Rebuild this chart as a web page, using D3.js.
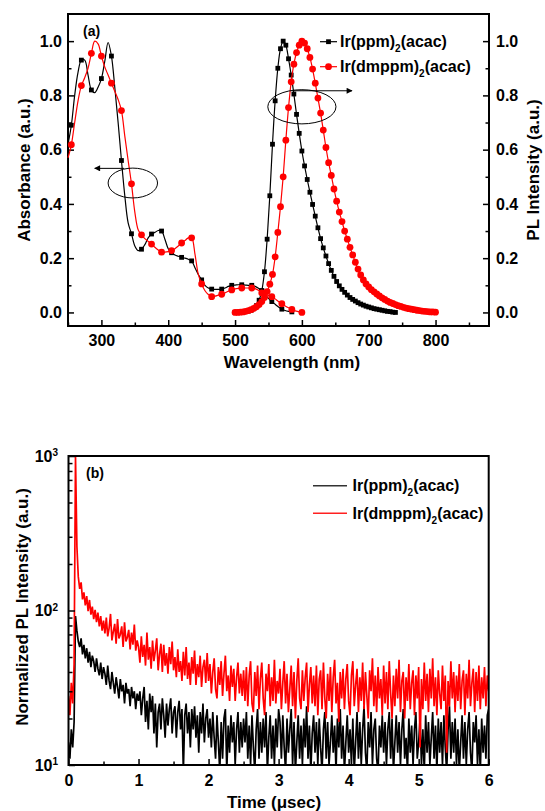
<!DOCTYPE html>
<html>
<head>
<meta charset="utf-8">
<script src="https://cdn.jsdelivr.net/npm/d3@7"></script>
<style>
  body { margin: 0; background: #fff; }
  svg { display: block; font-family: "Liberation Sans", Arial, sans-serif; font-weight: bold; }
</style>
</head>
<body>
<svg id="chart" width="545" height="811"></svg>
<script>
// ---------- Panel (a): absorption and PL spectra ----------
const seriesNames = ["Ir(ppm)", "Ir(dmppm)"];
const seriesColors = ["#000000", "#ff0000"];

// absorption, 5 nm sampling
const absWavelength = [250,255,260,265,270,275,280,285,290,295,300,305,310,315,320,325,330,335,340,345,
  350,355,360,365,370,375,380,385,390,395,400,405,410,415,420,425,430,435,440,445,450,455,460,465,470,
  475,480,485,490,495,500,505,510,515,520,525,530,535,540,545,550,555,560,565,570,575,580,585,590,595,600];
const absPpm = [0.62,0.69,0.80,0.885,0.93,0.93,0.875,0.82,0.81,0.83,0.862,0.925,0.995,0.945,0.83,0.70,0.56,0.43,0.33,0.29,
  0.245,0.228,0.233,0.25,0.275,0.289,0.295,0.302,0.30,0.27,0.235,0.22,0.212,0.207,0.203,0.20,0.196,0.19,0.165,0.14,
  0.12,0.10,0.09,0.086,0.085,0.085,0.086,0.09,0.096,0.10,0.101,0.102,0.102,0.101,0.10,0.10,0.096,0.089,0.08,0.066,
  0.052,0.04,0.03,0.02,0.012,0.007,0.004,0.002];
const absDmppm = [0.57,0.618,0.70,0.78,0.836,0.865,0.90,0.955,1.0,0.99,0.945,0.905,0.875,0.845,0.815,0.785,0.744,0.65,0.56,0.474,
  0.37,0.305,0.286,0.272,0.262,0.252,0.24,0.23,0.222,0.222,0.224,0.228,0.235,0.245,0.256,0.265,0.275,0.275,0.215,0.14,
  0.105,0.08,0.066,0.058,0.06,0.064,0.067,0.072,0.078,0.083,0.087,0.089,0.09,0.09,0.09,0.09,0.088,0.082,0.072,0.066,
  0.062,0.058,0.05,0.04,0.032,0.024,0.017,0.011,0.006,0.003,0.0];

// photoluminescence, 4 nm sampling
const plWavelength = [500,504,508,512,516,520,524,528,532,536,540,544,548,552,556,560,564,568,572,576,580,584,588,592,596,
  600,604,608,612,616,620,624,628,632,636,640,644,648,652,656,660,664,668,672,676,680,684,688,692,696,700,704,708,712,
  716,720,724,728,732,736,740,744,748,752,756,760,764,768,772,776,780,784,788,792,796,800];
const plPpm = [0.0,0.0,0.001,0.002,0.003,0.005,0.008,0.014,0.025,0.045,0.08,0.15,0.27,0.43,0.62,0.78,0.90,0.972,1.0,0.985,
  0.935,0.875,0.805,0.73,0.66,0.595,0.54,0.49,0.443,0.398,0.355,0.312,0.272,0.238,0.208,0.18,0.155,0.133,0.114,0.098,
  0.085,0.074,0.064,0.055,0.048,0.042,0.036,0.031,0.027,0.023,0.02,0.017,0.014,0.012,0.01,0.008,0.006,0.004,0.003,0.001,0.0];
const plDmppm = [0.0,0.0,0.001,0.002,0.004,0.007,0.01,0.015,0.021,0.029,0.04,0.055,0.077,0.104,0.14,0.205,0.295,0.39,0.50,0.635,
  0.755,0.85,0.915,0.958,0.985,1.0,0.993,0.972,0.94,0.897,0.845,0.79,0.735,0.672,0.608,0.552,0.505,0.455,0.41,0.37,
  0.335,0.30,0.27,0.24,0.212,0.185,0.16,0.138,0.12,0.105,0.094,0.084,0.076,0.068,0.061,0.054,0.048,0.042,0.037,0.033,
  0.029,0.025,0.022,0.019,0.016,0.014,0.012,0.01,0.008,0.007,0.005,0.004,0.003,0.002,0.002,0.001];

const wavelengthTicks = [300,400,500,600,700,800];
const wavelengthMinor = [250,350,450,550,650,750,850];
const intensityTicks = [0,0.2,0.4,0.6,0.8,1.0];
const intensityMinor = [0.1,0.3,0.5,0.7,0.9];

// ---------- Panel (b): transient PL decay ----------
const decayStep = 0.02; // µs between samples, starting at t = 0
const decayPpm = [14,11,17,13,19,92,74,63,
  58,66,52,60,49,57,46,54,43,51,47,40,49,42,38,46,36,43,
  39,33,44,35,31,40,34,29,37,32,27,36,30,33,25,34,29,31,24,32,27,30,23,29,26,
  30,21,27,32,19,26,17,29,22,28,16,25,13,22,25,17,27,21,15,25,18,23,27,16,22,
  24,15,22,26,17,23,9,21,25,16,22,13,23,17,24,15,21,12,22,16,25,14,20,23,15,
  20,13,22,15,11,21,14,9,19,11,20,23,9,18,12,21,14,19,10,17,22,12,19,13,20,
  14,22,11,18,10,21,13,9,17,23,11,19,12,20,13,22,9,15,21,11,18,10,20,13,23,
  19,11,21,13,9,20,12,17,23,10,19,9,14,21,11,18,10,20,13,24,11,18,9,16,21,
  12,19,10,20,13,9,17,22,11,19,10,14,21,12,18,9,20,13,23,11,18,9,14,21,12,
  17,10,20,9,14,22,11,19,10,17,24,12,9,19,13,22,10,17,20,11,9,18,13,21,12,
  19,10,17,22,11,20,9,14,21,12,19,10,17,23,11,15,9,20,12,18,10,17,22,11,14,
  20,10,17,9,21,12,19,10,15,22,11,18,9,20,12,19,10,21,13,9,17,24,11,19,12,
  20,10,17,9,14,21,11,19,10,17,22,12,9,19,14,21,10,17,9,20,12,18,11,21,23];
const decayDmppm = [28,21,34,25,45,1000,260,165,
  138,152,118,131,108,124,99,117,94,106,88,101,84,97,79,92,74,86,
  71,90,68,77,95,64,73,82,61,88,66,70,79,58,84,63,67,75,56,72,60,81,55,64,58,
  46,68,50,60,44,72,48,58,42,64,47,55,66,41,52,61,40,60,44,53,39,58,45,63,41,
  50,37,56,40,47,35,54,38,58,36,46,33,50,39,55,33,45,37,51,32,43,48,34,53,35,
  45,29,40,49,31,27,43,33,47,28,39,51,30,38,26,44,32,42,26,37,46,29,39,28,41,
  26,43,24,38,47,25,22,40,28,44,23,36,46,27,21,39,30,45,24,37,26,48,25,35,29,
  42,23,34,47,25,39,22,31,44,24,40,20,35,49,27,23,41,26,37,46,22,33,43,25,38,
  24,44,21,36,41,23,46,27,20,39,26,43,22,37,48,25,34,19,40,27,42,23,36,45,26,
  21,38,47,24,33,42,22,37,26,46,23,40,28,20,41,30,49,24,38,22,43,27,36,21,44,
  25,40,23,47,29,20,38,24,42,27,48,22,35,40,20,37,26,45,23,34,41,21,38,27,43,
  13,36,23,46,26,39,22,42,27,49,24,37,21,41,29,23,44,26,38,12,35,24,47,27,40,
  22,38,26,45,23,35,41,21,39,27,48,24,34,42,22,40,26,44,23,37,27,43,24,38,30];
const timeTicks = [0,1,2,3,4,5,6];
const timeMinor = [0.5,1.5,2.5,3.5,4.5,5.5];
const decayTicks = [10,100,1000];
const decayMinor = [20,30,40,50,60,70,80,90,200,300,400,500,600,700,800,900];

const svg = d3.select("#chart");

function styleAxis(g, size) {
  g.attr("font-family", null).attr("font-size", size).attr("font-weight", "bold");
  g.select(".domain").remove();
  g.selectAll(".tick line").attr("stroke", "#000").attr("stroke-width", 1.5);
  g.selectAll(".tick text").attr("fill", "#000");
}

function compoundLabel(text, prefix, subSize) {
  text.append("tspan").text(prefix);
  text.append("tspan").attr("font-size", subSize).attr("dy", 5).text("2");
  text.append("tspan").attr("dy", -5).text("(acac)");
}

// ================= Panel (a) =================
const xA = d3.scaleLinear().domain([250, 880]).range([68, 489]);
const yA = d3.scaleLinear().domain([-0.05, 1.1]).range([326, 14]);

const gA = svg.append("g");

gA.append("g").attr("transform", "translate(0,326)")
  .call(d3.axisBottom(xA).tickValues(wavelengthTicks).tickSize(-6).tickPadding(9))
  .call(g => styleAxis(g, 16));
gA.append("g").attr("transform", "translate(0,326)")
  .call(d3.axisBottom(xA).tickValues(wavelengthMinor).tickSize(-3.5).tickFormat(() => ""))
  .call(g => styleAxis(g, 16));
gA.append("g").attr("transform", "translate(68,0)")
  .call(d3.axisLeft(yA).tickValues(intensityTicks).tickFormat(d3.format(".1f")).tickSize(-6).tickPadding(6))
  .call(g => styleAxis(g, 16));
gA.append("g").attr("transform", "translate(68,0)")
  .call(d3.axisLeft(yA).tickValues(intensityMinor).tickSize(-3.5).tickFormat(() => ""))
  .call(g => styleAxis(g, 16));
gA.append("g").attr("transform", "translate(489,0)")
  .call(d3.axisRight(yA).tickValues(intensityTicks).tickFormat(d3.format(".1f")).tickSize(-6).tickPadding(7))
  .call(g => styleAxis(g, 16));
gA.append("g").attr("transform", "translate(489,0)")
  .call(d3.axisRight(yA).tickValues(intensityMinor).tickSize(-3.5).tickFormat(() => ""))
  .call(g => styleAxis(g, 16));

gA.append("rect").attr("x", xA(250)).attr("y", yA(1.1))
  .attr("width", xA(880) - xA(250)).attr("height", yA(-0.05) - yA(1.1))
  .attr("fill", "none").attr("stroke", "#000").attr("stroke-width", 2);

const lineA = d3.line().x(d => xA(d[0])).y(d => yA(d[1])).curve(d3.curveCatmullRom);

const spectra = [
  { abs: d3.zip(absWavelength, absPpm), pl: d3.zip(plWavelength, plPpm), color: seriesColors[0], shape: "square" },
  { abs: d3.zip(absWavelength, absDmppm), pl: d3.zip(plWavelength, plDmppm), color: seriesColors[1], shape: "circle" }
];

function drawMarkers(g, pts, s) {
  if (s.shape === "square") {
    g.selectAll(null).data(pts).join("rect")
      .attr("x", d => xA(d[0]) - 2.4).attr("y", d => yA(d[1]) - 2.4)
      .attr("width", 4.8).attr("height", 4.8).attr("fill", s.color);
  } else {
    g.selectAll(null).data(pts).join("circle")
      .attr("cx", d => xA(d[0])).attr("cy", d => yA(d[1])).attr("r", 3.4).attr("fill", s.color);
  }
}

spectra.forEach(s => {
  const g = gA.append("g");
  g.append("path").attr("d", lineA(s.abs)).attr("fill", "none").attr("stroke", s.color).attr("stroke-width", 1.2);
  g.append("path").attr("d", lineA(s.pl)).attr("fill", "none").attr("stroke", s.color).attr("stroke-width", 1.2);
  drawMarkers(g, s.abs.filter((d, i) => i % 3 === 1), s);
  drawMarkers(g, s.pl, s);
});

// ellipse + arrow annotations pointing to the relevant axis
const defs = svg.append("defs");
defs.append("marker").attr("id", "head").attr("viewBox", "0 0 10 10")
  .attr("refX", 9).attr("refY", 5).attr("markerWidth", 8).attr("markerHeight", 6)
  .attr("markerUnits", "userSpaceOnUse").attr("orient", "auto")
  .append("path").attr("d", "M0,0L10,5L0,10Z").attr("fill", "#000");

const annotations = [
  { wl: 347, val: 0.477, rw: 37, rv: 0.055, arrowFrom: 334, arrowTo: 290, arrowVal: 0.531 },
  { wl: 600, val: 0.758, rw: 51, rv: 0.063, arrowFrom: 587, arrowTo: 675, arrowVal: 0.817 }
];
annotations.forEach(a => {
  gA.append("ellipse").attr("cx", xA(a.wl)).attr("cy", yA(a.val))
    .attr("rx", xA(a.wl + a.rw) - xA(a.wl)).attr("ry", yA(0) - yA(a.rv))
    .attr("fill", "none").attr("stroke", "#000").attr("stroke-width", 1);
  gA.append("line").attr("x1", xA(a.arrowFrom)).attr("x2", xA(a.arrowTo))
    .attr("y1", yA(a.arrowVal)).attr("y2", yA(a.arrowVal))
    .attr("stroke", "#000").attr("stroke-width", 1).attr("marker-end", "url(#head)");
});

gA.append("text").attr("x", 83).attr("y", 36).attr("font-size", 14).text("(a)");

// legend (a)
spectra.forEach((s, i) => {
  const y = 41.7 + i * 25;
  gA.append("line").attr("x1", 320).attr("x2", 337).attr("y1", y).attr("y2", y)
    .attr("stroke", s.color).attr("stroke-width", 1.2);
  if (s.shape === "square") {
    gA.append("rect").attr("x", 328.5 - 2.4).attr("y", y - 2.4).attr("width", 4.8).attr("height", 4.8).attr("fill", s.color);
  } else {
    gA.append("circle").attr("cx", 328.5).attr("cy", y).attr("r", 3.4).attr("fill", s.color);
  }
  const t = gA.append("text").attr("x", 340).attr("y", y + 5.5).attr("font-size", 16);
  compoundLabel(t, seriesNames[i], 10);
});

gA.append("text").attr("text-anchor", "middle").attr("transform", "translate(30,170) rotate(-90)")
  .attr("font-size", 17).text("Absorbance (a.u.)");
gA.append("text").attr("text-anchor", "middle").attr("transform", "translate(539,170) rotate(-90)")
  .attr("font-size", 17).text("PL Intensity (a.u.)");
gA.append("text").attr("text-anchor", "middle").attr("x", 292).attr("y", 368)
  .attr("font-size", 17).text("Wavelength (nm)");

// ================= Panel (b) =================
const xB = d3.scaleLinear().domain([0, 6]).range([68.5, 488.7]);
const yB = d3.scaleLog().domain([10, 1000]).range([765, 456]);

const gB = svg.append("g");

defs.append("clipPath").attr("id", "clipB").append("rect")
  .attr("x", xB(0)).attr("y", yB(1000)).attr("width", xB(6) - xB(0)).attr("height", yB(10) - yB(1000));

const lineB = d3.line().x((d, i) => xB(i * decayStep)).y(d => yB(d));
const decays = [
  { values: decayPpm, color: "#000000" },
  { values: decayDmppm, color: "#ff0000" }
];
const plotB = gB.append("g").attr("clip-path", "url(#clipB)");
decays.forEach(s => {
  plotB.append("path").attr("d", lineB(s.values)).attr("fill", "none")
    .attr("stroke", s.color).attr("stroke-width", 1.7).attr("stroke-linejoin", "bevel");
});

gB.append("g").attr("transform", "translate(0,765)")
  .call(d3.axisBottom(xB).tickValues(timeTicks).tickFormat(d3.format("d")).tickSize(-6).tickPadding(10))
  .call(g => styleAxis(g, 16));
gB.append("g").attr("transform", "translate(0,765)")
  .call(d3.axisBottom(xB).tickValues(timeMinor).tickSize(-3.5).tickFormat(() => ""))
  .call(g => styleAxis(g, 16));
gB.append("g").attr("transform", "translate(69,0)")
  .call(d3.axisLeft(yB).tickValues(decayTicks).tickSize(-6).tickPadding(11))
  .call(g => styleAxis(g, 16))
  .call(g => g.selectAll(".tick text").each(function (d) {
    const t = d3.select(this).text(null);
    t.append("tspan").text("10");
    t.append("tspan").attr("font-size", 10).attr("dy", "-0.55em").text(Math.round(Math.log10(d)));
  }));
gB.append("g").attr("transform", "translate(69,0)")
  .call(d3.axisLeft(yB).tickValues(decayMinor).tickSize(-3.5).tickFormat(() => ""))
  .call(g => styleAxis(g, 16));

gB.append("rect").attr("x", xB(0)).attr("y", yB(1000))
  .attr("width", xB(6) - xB(0)).attr("height", yB(10) - yB(1000))
  .attr("fill", "none").attr("stroke", "#000").attr("stroke-width", 2);

gB.append("text").attr("x", 86).attr("y", 478).attr("font-size", 14).text("(b)");

decays.forEach((s, i) => {
  const y = 485.7 + i * 27.6;
  gB.append("line").attr("x1", 313).attr("x2", 347).attr("y1", y).attr("y2", y)
    .attr("stroke", i === 0 ? "#333" : "#ff2020").attr("stroke-width", 1.6);
  const t = gB.append("text").attr("x", 352.5).attr("y", y + 5.5).attr("font-size", 16);
  compoundLabel(t, seriesNames[i], 10);
});

gB.append("text").attr("text-anchor", "middle").attr("transform", "translate(28,607) rotate(-90)")
  .attr("font-size", 17).text("Normalized PL Intensity (a.u.)");
gB.append("text").attr("text-anchor", "middle").attr("x", 274).attr("y", 808)
  .attr("font-size", 17).text("Time (\u03bcsec)");
</script>
</body>
</html>
